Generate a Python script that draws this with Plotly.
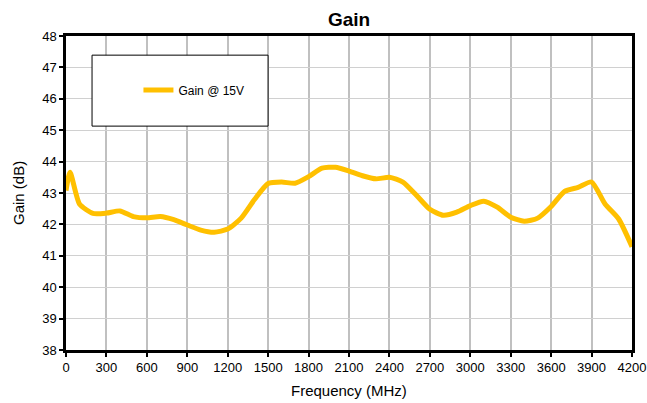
import plotly.graph_objects as go

freq_mhz = [0, 30, 100, 200, 300, 400, 500, 600, 700, 800, 900, 1000, 1100, 1200,
            1300, 1400, 1500, 1600, 1700, 1800, 1900, 2000, 2100, 2200, 2300, 2400,
            2500, 2600, 2700, 2800, 2900, 3000, 3100, 3200, 3300, 3400, 3500, 3600,
            3700, 3800, 3900, 4000, 4100, 4200]
gain_db = [43.08, 43.66, 42.65, 42.35, 42.36, 42.43, 42.25, 42.21, 42.25, 42.15,
           41.98, 41.82, 41.75, 41.85, 42.2, 42.8, 43.3, 43.35, 43.31, 43.52,
           43.79, 43.82, 43.70, 43.55, 43.45, 43.50, 43.35, 42.93, 42.48, 42.29,
           42.39, 42.60, 42.74, 42.55, 42.23, 42.10, 42.20, 42.57, 43.05, 43.18,
           43.35, 42.65, 42.18, 41.29]
x_ticks = list(range(0, 4201, 300))
y_ticks = list(range(38, 49))

fig = go.Figure()
fig.add_trace(go.Scatter(
    x=freq_mhz, y=gain_db, mode="lines", name="Gain @ 15V",
    line=dict(color="#FFC000", width=5, shape="spline", smoothing=0.6),
))

font = "Liberation Sans, Arial, sans-serif"
fig.update_layout(
    width=647, height=403,
    margin=dict(l=66, r=15, t=36, b=53, autoexpand=False),
    paper_bgcolor="white", plot_bgcolor="white",
    font=dict(family=font, size=13, color="black"),
    showlegend=True,
    legend=dict(x=0.128, y=0.828, xanchor="left", yanchor="middle",
                bgcolor="rgba(0,0,0,0)", borderwidth=0,
                font=dict(family=font, size=12)),
    xaxis=dict(range=[0, 4200], tickvals=x_ticks, ticks="outside", ticklen=4,
               tickcolor="black", tickwidth=2, automargin=False,
               showline=True, linecolor="black", linewidth=2.5, mirror=True,
               showgrid=True, gridcolor="#C0C0C0", gridwidth=2,
               zeroline=False),
    yaxis=dict(range=[38, 48], tickvals=y_ticks, ticks="outside", ticklen=4,
               tickcolor="black", tickwidth=2, automargin=False,
               showline=True, linecolor="black", linewidth=2.5, mirror=True,
               showgrid=True, gridcolor="#D0D0D0", gridwidth=1,
               zeroline=False),
    shapes=[dict(type="rect", xref="paper", yref="paper",
                 x0=0.046, x1=0.357, y0=0.713, y1=0.939,
                 line=dict(color="black", width=1), fillcolor="white", layer="above")],
    annotations=[
        dict(text="<b>Gain</b>", xref="paper", yref="paper", x=0.5, y=1.0,
             xanchor="center", yanchor="middle", yshift=17, showarrow=False,
             font=dict(family=font, size=19, color="black")),
        dict(text="Frequency (MHz)", xref="paper", yref="paper", x=0.5, y=0,
             xanchor="center", yanchor="middle", yshift=-40, showarrow=False,
             font=dict(family=font, size=15, color="black")),
        dict(text="Gain (dB)", xref="paper", yref="paper", x=0, y=0.5,
             xanchor="center", yanchor="middle", xshift=-48, textangle=-90, showarrow=False,
             font=dict(family=font, size=15, color="black")),
    ],
)

fig.write_html("out.html", config={"displayModeBar": False},
               post_script="document.body.style.margin='0px';document.body.style.overflow='hidden';")
